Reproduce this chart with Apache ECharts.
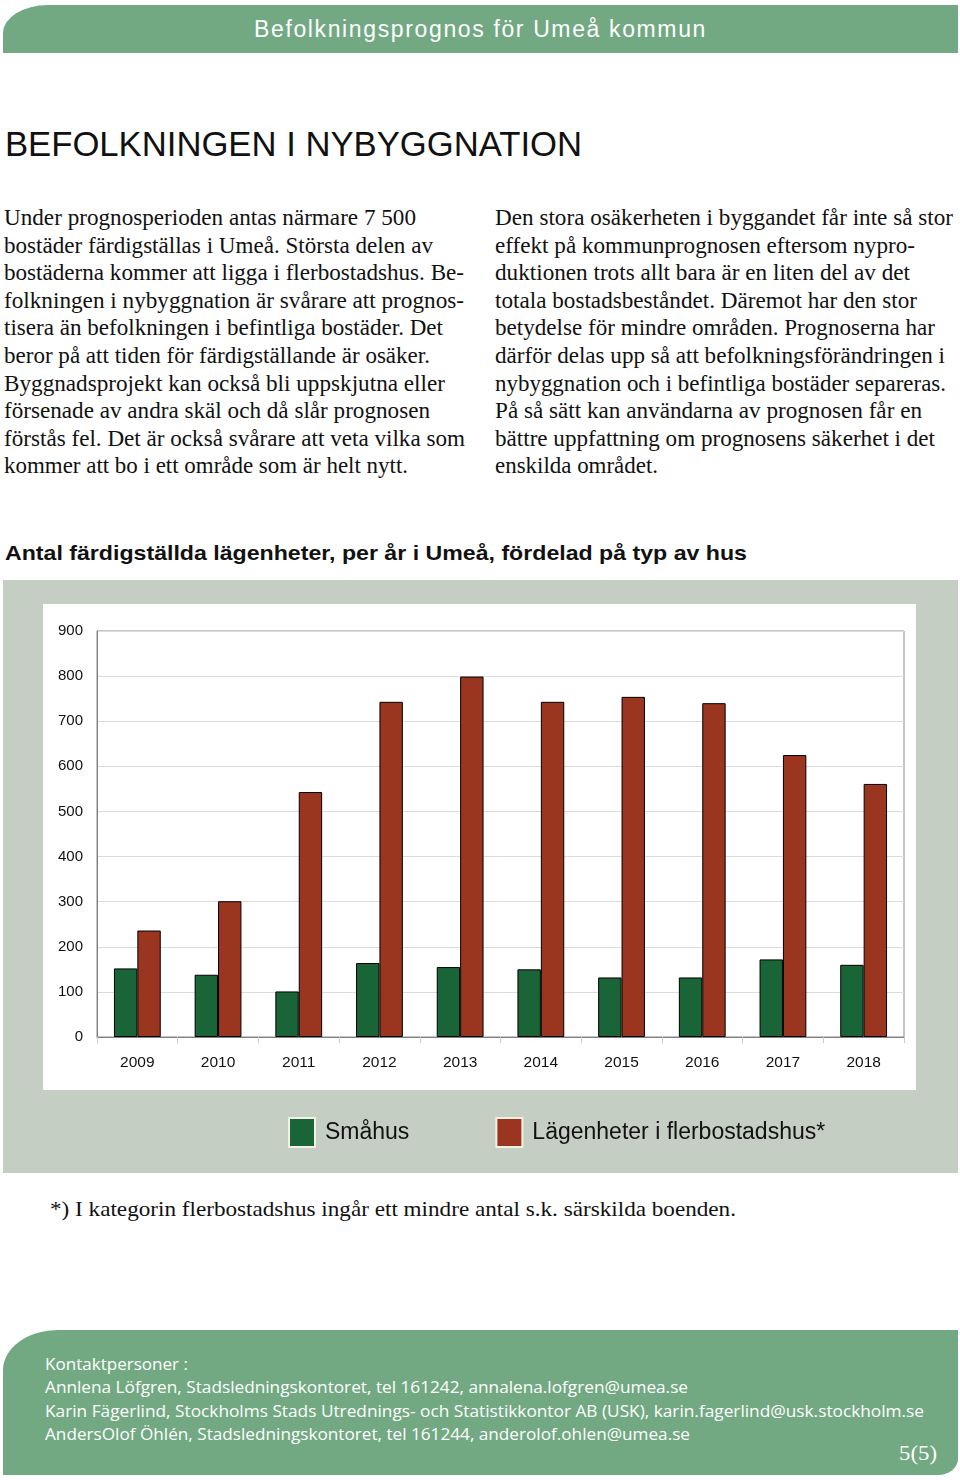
<!DOCTYPE html>
<html><head><meta charset="utf-8">
<script src="https://cdn.jsdelivr.net/npm/echarts@6/dist/echarts.min.js"></script>
<style>
html,body{margin:0;padding:0;background:#fff;}
body{width:960px;height:1480px;position:relative;overflow:hidden;}
.abs{position:absolute;}
.t{position:absolute;white-space:nowrap;line-height:1;}
.t span{display:inline-block;transform-origin:0 50%;}
</style></head><body>
<div class="abs" style="left:3px;top:5px;width:955px;height:48px;background:#72a982;border-top-left-radius:45px 28px;"></div>
<div class="abs" style="left:3px;top:580px;width:955px;height:593px;background:#c5cec3;"></div>
<div class="abs" style="left:43px;top:604px;width:873px;height:486px;background:#fff;"></div>
<div id="chart" class="abs" style="left:3px;top:580px;width:955px;height:593px;"></div>
<div class="abs" style="left:3px;top:1330px;width:955px;height:145px;background:#72a982;border-top-left-radius:55px 40px;border-bottom-right-radius:20px 16px;"></div>
<script>
// ---- chart data ----
const years = ['2009','2010','2011','2012','2013','2014','2015','2016','2017','2018'];
const smahus = [152,138,101,164,155,150,132,132,172,160];
const flerbostadshus = [236,301,543,743,799,743,754,740,625,561];
const seriesNames = ['Småhus','Lägenheter i flerbostadshus*'];
const yMin = 0, yMax = 900, yStep = 100;

// ---- page texts ----
const headerText = 'Befolkningsprognos för Umeå kommun';
const titleText = 'BEFOLKNINGEN I NYBYGGNATION';
const leftCol = [
 'Under prognosperioden antas närmare 7 500',
 'bostäder färdigställas i Umeå. Största delen av',
 'bostäderna kommer att ligga i flerbostadshus. Be-',
 'folkningen i nybyggnation är svårare att prognos-',
 'tisera än befolkningen i befintliga bostäder. Det',
 'beror på att tiden för färdigställande är osäker.',
 'Byggnadsprojekt kan också bli uppskjutna eller',
 'försenade av andra skäl och då slår prognosen',
 'förstås fel. Det är också svårare att veta vilka som',
 'kommer att bo i ett område som är helt nytt.'
];
const rightCol = [
 'Den stora osäkerheten i byggandet får inte så stor',
 'effekt på kommunprognosen eftersom nypro-',
 'duktionen trots allt bara är en liten del av det',
 'totala bostadsbeståndet. Däremot har den stor',
 'betydelse för mindre områden. Prognoserna har',
 'därför delas upp så att befolkningsförändringen i',
 'nybyggnation och i befintliga bostäder separeras.',
 'På så sätt kan användarna av prognosen får en',
 'bättre uppfattning om prognosens säkerhet i det',
 'enskilda området.'
];
const chartTitle = 'Antal färdigställda lägenheter, per år i Umeå, fördelad på typ av hus';
const footnote = '*) I kategorin flerbostadshus ingår ett mindre antal s.k. särskilda boenden.';
const footerLines = [
 'Kontaktpersoner :',
 'Annlena Löfgren, Stadsledningskontoret, tel 161242, annalena.lofgren@umea.se',
 'Karin Fägerlind, Stockholms Stads Utrednings- och Statistikkontor AB (USK), karin.fagerlind@usk.stockholm.se',
 'AndersOlof Öhlén, Stadsledningskontoret, tel 161244, anderolof.ohlen@umea.se'
];
const pageNo = '5(5)';

// ---- layout (text placement) ----
const SANS = '"Liberation Sans", Arial, Helvetica, sans-serif';
const SERIF = '"Liberation Serif", "Times New Roman", Times, serif';
const FOOT = '"Open Sans", "Noto Sans", sans-serif';
const leftW = [412,429,460,460,439,426,441,426,461,404];
const rightW = [458,420,415,422,440,450,451,427,440,163];
const footW = [143,643,879,645];

const cv = document.createElement('canvas').getContext('2d');
function place(o){
  const d = document.createElement('div'); d.className='t';
  const s = document.createElement('span'); s.textContent = o.text;
  d.style.fontFamily = o.font; d.style.fontSize = o.size+'px';
  d.style.fontWeight = o.weight||'normal'; d.style.color = o.color||'#111';
  d.style.lineHeight = o.size+'px';
  d.appendChild(s); document.body.appendChild(d);
  cv.font = (o.weight||'normal')+' '+o.size+'px '+o.font;
  const m = cv.measureText(o.text);
  const A = m.fontBoundingBoxAscent || o.size*0.9, D = m.fontBoundingBoxDescent || o.size*0.21;
  const off = (o.size-(A+D))/2 + A;
  d.style.top = (o.base-off)+'px';
  d.style.left = o.x+'px';
  if (o.w){
    const nat = s.getBoundingClientRect().width;
    if (o.mode==='ls'){
      s.style.letterSpacing = ((o.w-nat)/o.text.length)+'px';
    } else {
      let k = o.w/nat; k = Math.max(0.8, Math.min(1.15, k));
      s.style.transform = 'scaleX('+k+')';
    }
  }
}
function drawTexts(){
  place({text:headerText,x:254,base:37,font:SANS,size:23,color:'#fff',w:453,mode:'ls'});
  place({text:titleText,x:5,base:156,font:SANS,size:35,color:'#111',w:577});
  leftCol.forEach((t,i)=>place({text:t,x:4,base:225+i*27.6,font:SERIF,size:23,color:'#111',w:leftW[i]}));
  rightCol.forEach((t,i)=>place({text:t,x:495,base:225+i*27.6,font:SERIF,size:23,color:'#111',w:rightW[i]}));
  place({text:chartTitle,x:5,base:560,font:SANS,size:21,weight:'bold',color:'#111',w:742});
  place({text:footnote,x:50,base:1216,font:SERIF,size:22,color:'#111',w:686});
  footerLines.forEach((t,i)=>place({text:t,x:45,base:1370+i*23.3,font:FOOT,size:17,color:'#fff',w:footW[i]}));
  place({text:pageNo,x:899,base:1460,font:SERIF,size:21,color:'#fff',w:38});
}

// ---- chart ----
const chart = echarts.init(document.getElementById('chart'), null, {renderer:'canvas'});
chart.setOption({
  animation:false,
  backgroundColor:'transparent',
  textStyle:{fontFamily:SANS},
  grid:{left:94, top:51, width:807, height:406, show:true, borderColor:'#8a8a8a', borderWidth:1, backgroundColor:'transparent'},
  legend:{
    data:seriesNames, left:285, top:537, padding:0, icon:'rect', itemWidth:26, itemHeight:29, itemGap:86,
    itemStyle:{borderColor:'#f4f1e4', borderWidth:2},
    textStyle:{fontSize:23, color:'#111', fontFamily:SANS, padding:[0,0,0,5]}
  },
  xAxis:{
    type:'category', data:years,
    axisLine:{lineStyle:{color:'#808080', width:1}},
    axisTick:{show:true, length:6, lineStyle:{color:'#cccccc'}},
    axisLabel:{fontSize:15.5, color:'#111', margin:18, fontFamily:SANS}
  },
  yAxis:{
    type:'value', min:yMin, max:yMax, interval:yStep,
    axisLine:{show:true, lineStyle:{color:'#808080', width:1}},
    axisTick:{show:false},
    splitLine:{lineStyle:{color:'#dcdcdc', width:1}},
    axisLabel:{fontSize:15, color:'#111', margin:14, fontFamily:SANS}
  },
  series:[
    {name:seriesNames[0], type:'bar', data:smahus, barGap:'0%', barCategoryGap:'42%',
     itemStyle:{color:'#1a6537', borderColor:'#000', borderWidth:1}},
    {name:seriesNames[1], type:'bar', data:flerbostadshus, barGap:'0%', barCategoryGap:'42%',
     itemStyle:{color:'#9a3520', borderColor:'#000', borderWidth:1}}
  ]
});

if (document.fonts && document.fonts.ready) { document.fonts.ready.then(drawTexts); } else { drawTexts(); }
</script>
</body></html>
